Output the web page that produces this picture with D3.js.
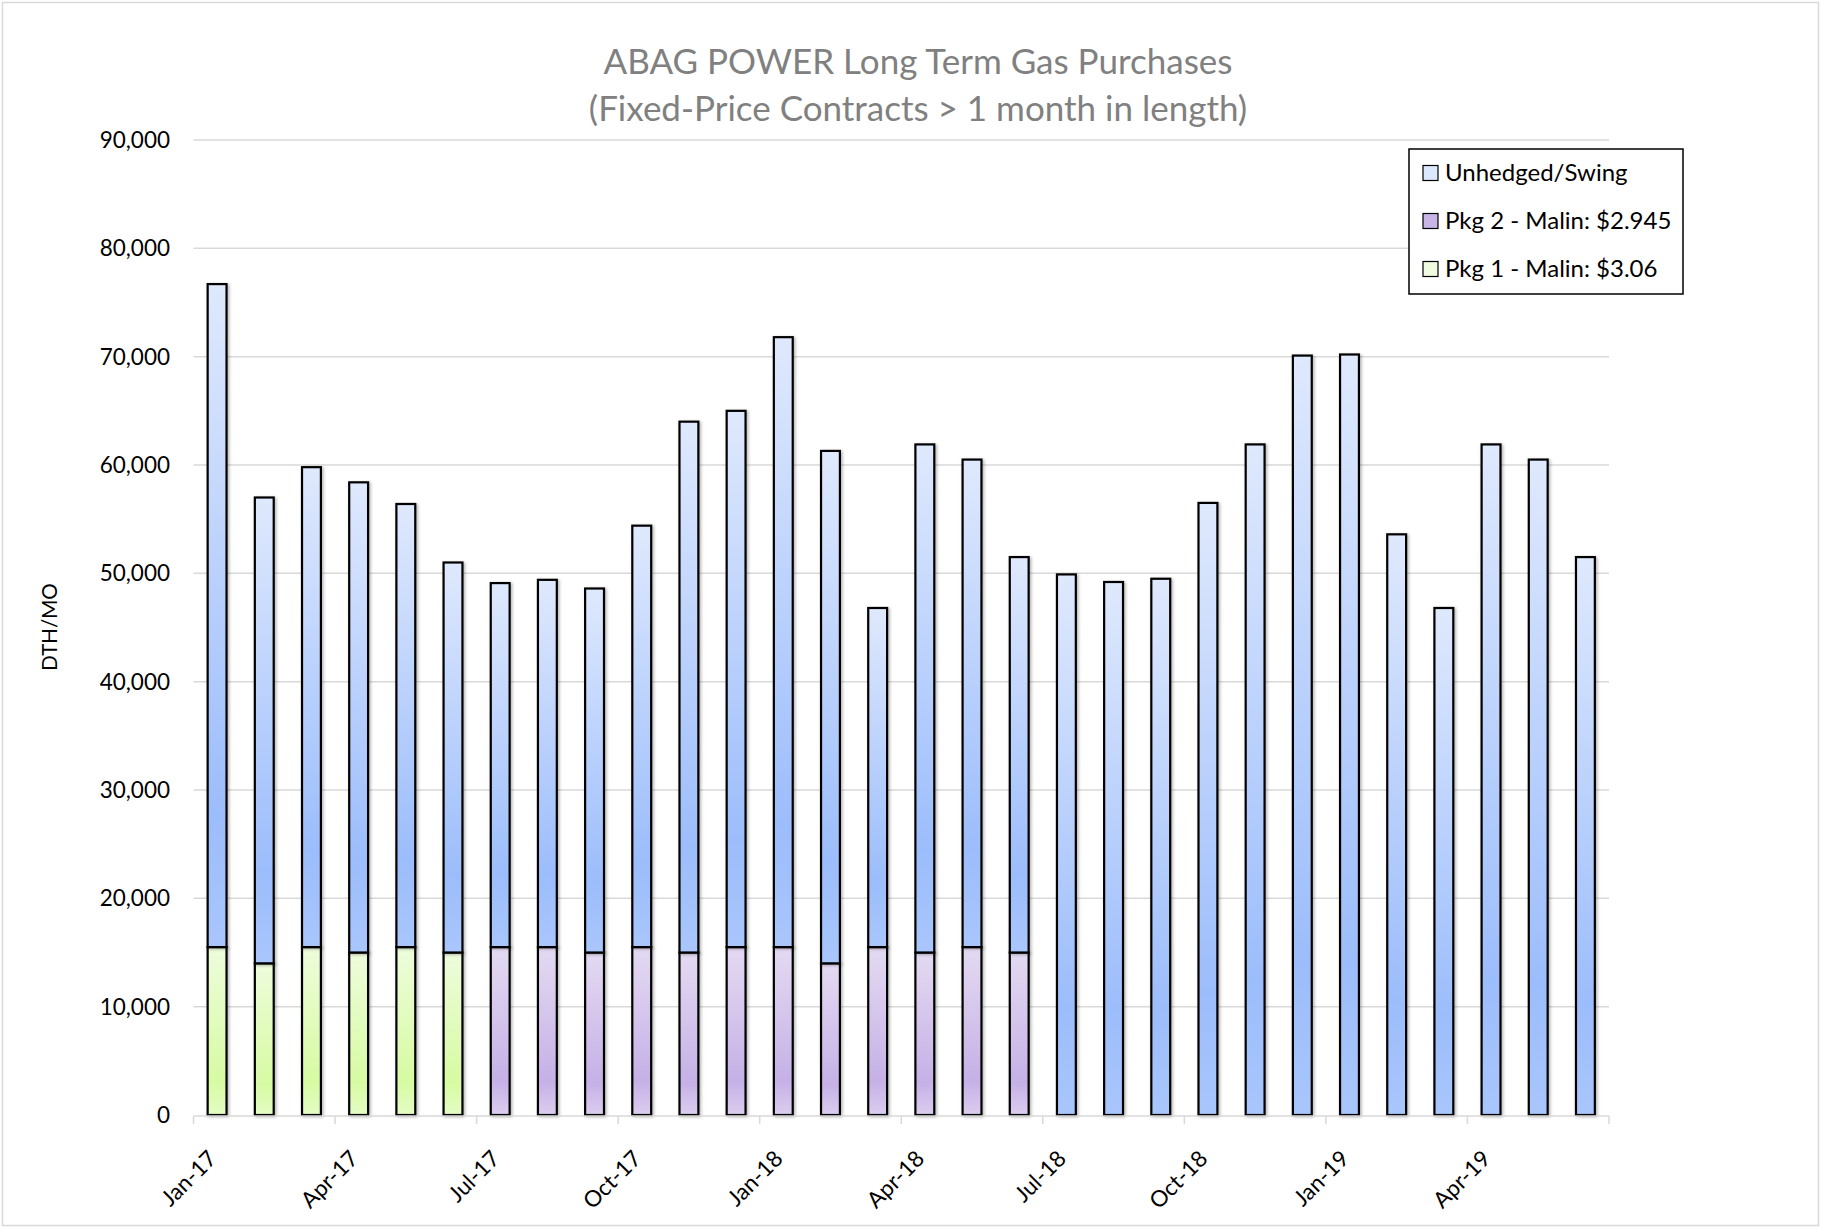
<!DOCTYPE html>
<html lang="en">
<head>
    <meta charset="UTF-8">
    <title>ABAG POWER Long Term Gas Purchases</title>
    <script src="https://cdn.jsdelivr.net/npm/d3@7"></script>
    <style>
        body {
            margin: 0;
            padding: 0;
            background-color: #fff;
            font-family: Lato, 'Open Sans', sans-serif;
        }
        #chart {
            display: block;
        }
    </style>
</head>
<body>
    <svg id="chart"></svg>

    <script>
        // Months on the category axis
        const months = [
            "Jan-17", "Feb-17", "Mar-17", "Apr-17", "May-17", "Jun-17",
            "Jul-17", "Aug-17", "Sep-17", "Oct-17", "Nov-17", "Dec-17",
            "Jan-18", "Feb-18", "Mar-18", "Apr-18", "May-18", "Jun-18",
            "Jul-18", "Aug-18", "Sep-18", "Oct-18", "Nov-18", "Dec-18",
            "Jan-19", "Feb-19", "Mar-19", "Apr-19", "May-19", "Jun-19"
        ];

        // Pkg 1 - Malin: $3.06 (DTH/MO)
        const pkg1 = [
            15500, 14000, 15500, 15000, 15500, 15000,
            0, 0, 0, 0, 0, 0,
            0, 0, 0, 0, 0, 0,
            0, 0, 0, 0, 0, 0,
            0, 0, 0, 0, 0, 0
        ];

        // Pkg 2 - Malin: $2.945 (DTH/MO)
        const pkg2 = [
            0, 0, 0, 0, 0, 0,
            15500, 15500, 15000, 15500, 15000, 15500,
            15500, 14000, 15500, 15000, 15500, 15000,
            0, 0, 0, 0, 0, 0,
            0, 0, 0, 0, 0, 0
        ];

        // Unhedged/Swing (DTH/MO)
        const unhedged = [
            61200, 43000, 44300, 43400, 40900, 36000,
            33600, 33900, 33600, 38900, 49000, 49500,
            56300, 47300, 31300, 46900, 45000, 36500,
            49900, 49200, 49500, 56500, 61900, 70100,
            70200, 53600, 46800, 61900, 60500, 51500
        ];

        const yTicks = [0, 10000, 20000, 30000, 40000, 50000, 60000, 70000, 80000, 90000];
        const axisLabels = ["Jan-17", "Apr-17", "Jul-17", "Oct-17", "Jan-18", "Apr-18",
                            "Jul-18", "Oct-18", "Jan-19", "Apr-19"];

        const seriesKeys = ["pkg1", "pkg2", "unhedged"];
        const legendItems = [
            { key: "unhedged", label: "Unhedged/Swing", swatch: "#dce8fd" },
            { key: "pkg2", label: "Pkg 2 - Malin: $2.945", swatch: "#c8b5e6" },
            { key: "pkg1", label: "Pkg 1 - Malin: $3.06", swatch: "#f0fcdf" }
        ];

        // gradient stops for each series: light top, dark near bottom, a bit lighter at the base
        const gradients = {
            unhedged: ["#dfe9fd", "#9cbdfb", "#a9c6fc"],
            pkg2: ["#e4daf2", "#c5b1e6", "#dccdef"],
            pkg1: ["#eefcdc", "#d7fba3", "#e4fcc4"]
        };

        const table = months.map((m, i) => ({
            month: m, pkg1: pkg1[i], pkg2: pkg2[i], unhedged: unhedged[i]
        }));

        const width = 1822;
        const height = 1229;
        const plot = { left: 193.5, right: 1609, top: 140, bottom: 1115 };

        const svg = d3.select("#chart")
            .attr("width", width)
            .attr("height", height);

        const defs = svg.append("defs");

        Object.entries(gradients).forEach(([key, stops]) => {
            const g = defs.append("linearGradient")
                .attr("id", "grad-" + key)
                .attr("x1", 0).attr("y1", 0)
                .attr("x2", 0).attr("y2", 1);
            g.append("stop").attr("offset", "0%").attr("stop-color", stops[0]);
            g.append("stop").attr("offset", "80%").attr("stop-color", stops[1]);
            g.append("stop").attr("offset", "100%").attr("stop-color", stops[2]);
        });

        const shadow = defs.append("filter")
            .attr("id", "shadow")
            .attr("x", "-30%").attr("y", "-5%")
            .attr("width", "160%").attr("height", "110%");
        shadow.append("feDropShadow")
            .attr("dx", 1.5).attr("dy", 1)
            .attr("stdDeviation", 1.6)
            .attr("flood-color", "#000")
            .attr("flood-opacity", 0.3);

        // outer chart border
        svg.append("rect")
            .attr("x", 2.5).attr("y", 2.5)
            .attr("width", width - 6).attr("height", height - 6)
            .attr("fill", "#fff")
            .attr("stroke", "#d9d9d9")
            .attr("stroke-width", 1.5);

        const x = d3.scaleBand()
            .domain(months)
            .range([plot.left, plot.right])
            .paddingInner(0.6)
            .paddingOuter(0.3);

        const y = d3.scaleLinear()
            .domain([0, 90000])
            .range([plot.bottom, plot.top]);

        // gridlines
        svg.append("g")
            .selectAll("line")
            .data(yTicks.filter(d => d > 0))
            .enter().append("line")
            .attr("x1", plot.left)
            .attr("x2", plot.right)
            .attr("y1", d => y(d))
            .attr("y2", d => y(d))
            .attr("stroke", "#d9d9d9")
            .attr("stroke-width", 1.5);

        // y axis labels
        svg.append("g")
            .selectAll("text")
            .data(yTicks)
            .enter().append("text")
            .attr("x", 170)
            .attr("y", d => y(d))
            .attr("dy", "0.35em")
            .attr("text-anchor", "end")
            .style("font-size", "22.5px")
            .style("fill", "#000")
            .text(d => d3.format(",")(d));

        // stacked bars
        const stack = d3.stack().keys(seriesKeys);
        const layers = stack(table);

        svg.append("g")
            .selectAll("g")
            .data(layers)
            .enter().append("g")
            .attr("fill", d => "url(#grad-" + d.key + ")")
            .selectAll("rect")
            .data(d => d.filter(s => s[1] - s[0] > 0))
            .enter().append("rect")
            .attr("x", d => x(d.data.month))
            .attr("width", x.bandwidth())
            .attr("y", d => y(d[1]))
            .attr("height", d => y(d[0]) - y(d[1]))
            .attr("stroke", "#000")
            .attr("stroke-width", 2.2)
            .attr("filter", "url(#shadow)");

        // x axis line and quarter ticks
        const step = x.step();
        const tickPos = months
            .filter((m, i) => i % 3 === 0)
            .map(m => x(m) - step * 0.3);
        tickPos.push(plot.right);

        const xAxis = svg.append("g");
        xAxis.append("line")
            .attr("x1", plot.left)
            .attr("x2", plot.right)
            .attr("y1", plot.bottom + 1)
            .attr("y2", plot.bottom + 1)
            .attr("stroke", "#d9d9d9")
            .attr("stroke-width", 1.5);

        xAxis.selectAll("line.tick")
            .data(tickPos)
            .enter().append("line")
            .attr("class", "tick")
            .attr("x1", d => d)
            .attr("x2", d => d)
            .attr("y1", plot.bottom + 1)
            .attr("y2", plot.bottom + 9)
            .attr("stroke", "#d9d9d9")
            .attr("stroke-width", 1.5);

        xAxis.selectAll("text")
            .data(axisLabels)
            .enter().append("text")
            .attr("transform", d => `translate(${x(d) + x.bandwidth() / 2 + 1},${plot.bottom + 45}) rotate(-45)`)
            .attr("text-anchor", "end")
            .style("font-size", "22.5px")
            .style("fill", "#000")
            .text(d => d);

        // y axis title
        svg.append("text")
            .attr("transform", "translate(50,627) rotate(-90)")
            .attr("text-anchor", "middle")
            .attr("dy", "0.35em")
            .style("font-size", "20.5px")
            .style("fill", "#000")
            .text("DTH/MO");

        // chart title
        const title = svg.append("text")
            .attr("text-anchor", "middle")
            .style("font-size", "35px")
            .style("fill", "#808080");
        title.append("tspan").attr("x", 918).attr("y", 74).text("ABAG POWER Long Term Gas Purchases");
        title.append("tspan").attr("x", 918).attr("y", 121).text("(Fixed-Price Contracts > 1 month in length)");

        // legend
        const legend = svg.append("g");
        legend.append("rect")
            .attr("x", 1409).attr("y", 149)
            .attr("width", 274).attr("height", 145)
            .attr("fill", "#fff")
            .attr("stroke", "#000")
            .attr("stroke-width", 1.5);

        const rows = legend.selectAll("g")
            .data(legendItems)
            .enter().append("g")
            .attr("transform", (d, i) => `translate(1423,${173 + i * 48})`);

        rows.append("rect")
            .attr("x", 0).attr("y", -7.5)
            .attr("width", 15).attr("height", 15)
            .attr("fill", d => d.swatch)
            .attr("stroke", "#000")
            .attr("stroke-width", 1.2);

        rows.append("text")
            .attr("x", 22)
            .attr("dy", "0.35em")
            .style("font-size", "24px")
            .style("fill", "#000")
            .text(d => d.label);
    </script>
</body>
</html>
